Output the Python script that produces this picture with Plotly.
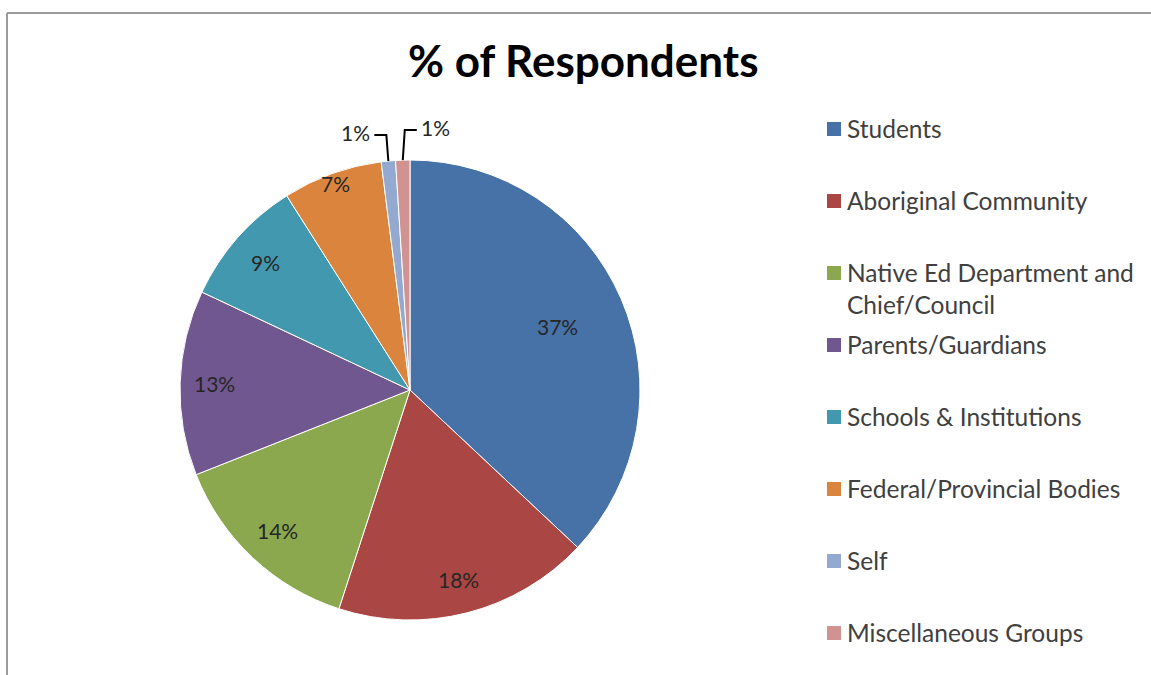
import math
import plotly.graph_objects as go

# ---- data ----
categories = ["Students", "Aboriginal Community", "Native Ed Department and<br>Chief/Council",
              "Parents/Guardians", "Schools & Institutions", "Federal/Provincial Bodies",
              "Self", "Miscellaneous Groups"]
values = [37, 18, 14, 13, 9, 7, 1, 1]
colors = ["#4672A8", "#AA4643", "#8BA84E", "#71578F", "#4299AF", "#DB843D", "#94A9D0", "#D09392"]
title_text = "% of Respondents"

# ---- layout constants (pixels) ----
W, H = 1151, 675
CX, CY, R = 410, 390, 230
label_r = [0.70, 0.85, 0.84, 0.85, 0.84, 0.955]  # inside label radius fractions (style)
FONT = "Lato"


def px(x):
    return x / W


def py(y):
    return 1 - y / H


fig = go.Figure()
fig.add_trace(go.Pie(
    labels=categories, values=values, sort=False, direction="clockwise", rotation=0,
    marker=dict(colors=colors, line=dict(color="white", width=1)),
    textinfo="none", hoverinfo="label+percent", showlegend=False,
    domain=dict(x=[px(CX - R), px(CX + R)], y=[py(CY + R), py(CY - R)]),
))

annotations = []
shapes = []
total = sum(values)
cum = 0
small_idx = 0
for i, v in enumerate(values):
    mid = (cum + v / 2) / total * 2 * math.pi
    cum += v
    pct = f"{round(v / total * 100)}%"
    if i < len(label_r):
        r = label_r[i] * R
        x = CX + r * math.sin(mid)
        y = CY - r * math.cos(mid)
        annotations.append(dict(x=px(x), y=py(y), xref="paper", yref="paper", text=pct,
                                xanchor="center", yanchor="middle",
                                showarrow=False, font=dict(family=FONT, size=21, color="#262626")))
    else:
        # outside labels with elbow leader lines
        ex = CX + R * math.sin(mid)
        ey = CY - R * math.cos(mid)
        side = -1 if small_idx == 0 else 1
        ly = 135 if small_idx == 0 else 130
        hx = ex + side * 14
        shapes.append(dict(type="path", xref="paper", yref="paper",
                           path=f"M {px(ex)},{py(ey)} L {px(ex + side*2)},{py(ly)} L {px(hx)},{py(ly)}",
                           line=dict(color="black", width=2)))
        annotations.append(dict(x=px(hx + side * 2), y=py(ly - 3), xref="paper", yref="paper", text=pct,
                                showarrow=False, xanchor="left" if side > 0 else "right", yanchor="middle",
                                font=dict(family=FONT, size=21, color="#262626")))
        small_idx += 1

# legend drawn manually
ly = 129
for lab, col in zip(categories, colors):
    shapes.append(dict(type="rect", xref="paper", yref="paper",
                       x0=px(827), x1=px(841), y0=py(ly - 7), y1=py(ly + 7),
                       fillcolor=col, line=dict(width=0)))
    annotations.append(dict(x=px(845), y=py(ly - 17), xref="paper", yref="paper", text=lab,
                            showarrow=False, xanchor="left", yanchor="top", align="left",
                            font=dict(family=FONT, size=24.5, color="#404040")))
    ly += 72

# title
annotations.append(dict(x=px(583), y=py(60), xref="paper", yref="paper", text=f"<b>{title_text}</b>",
                        xanchor="center", yanchor="middle",
                        showarrow=False, font=dict(family=FONT, size=44, color="black")))

# frame
shapes.append(dict(type="line", xref="paper", yref="paper", x0=px(7), x1=1, y0=py(13), y1=py(13),
                   line=dict(color="#9a9a9a", width=2)))
shapes.append(dict(type="line", xref="paper", yref="paper", x0=px(7), x1=px(7), y0=py(13), y1=0,
                   line=dict(color="#9a9a9a", width=2)))

fig.update_layout(width=W, height=H, margin=dict(l=0, r=0, t=0, b=0),
                  paper_bgcolor="white", plot_bgcolor="white",
                  annotations=annotations, shapes=shapes)
fig.write_html("out.html", config={"displayModeBar": False},
               post_script="document.body.style.margin='0';document.body.style.overflow='hidden';")
